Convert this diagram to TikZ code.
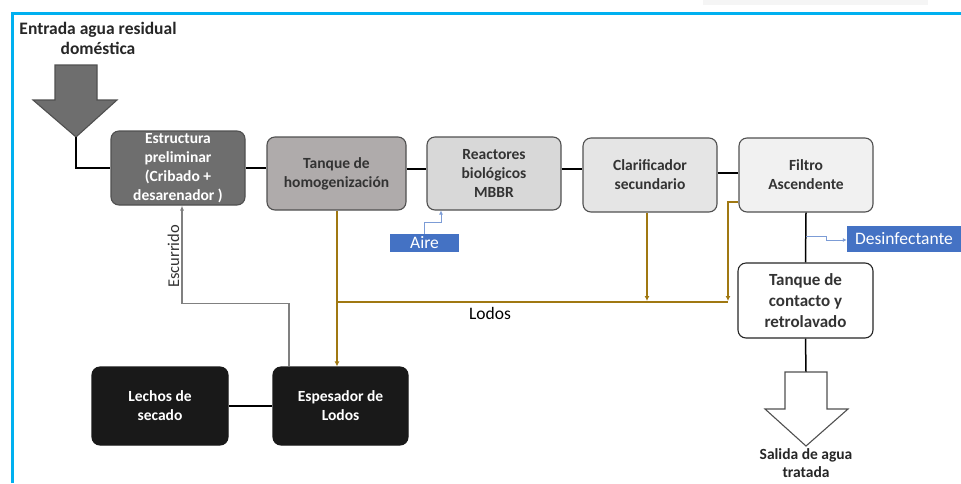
\documentclass[tikz,border=0pt]{standalone}
\usepackage{fontspec}
\setmainfont{Carlito}
\usepackage{tikz}
\usetikzlibrary{arrows.meta}
\definecolor{grisA}{RGB}{110,110,110}
\definecolor{grisB}{RGB}{175,171,171}
\definecolor{grisC}{RGB}{216,216,216}
\definecolor{grisD}{RGB}{229,229,229}
\definecolor{grisE}{RGB}{241,241,241}
\definecolor{borde}{RGB}{80,80,80}
\definecolor{azul}{RGB}{68,114,196}
\definecolor{cafe}{RGB}{160,120,18}
\definecolor{celeste}{RGB}{0,176,240}

\begin{document}
\begin{tikzpicture}[x=1pt,y=-1pt,
    caja/.style={draw=borde,line width=1.1pt,rounded corners=8pt,align=center,
      inner sep=0pt,font=\fontsize{15.5}{19}\selectfont\bfseries,text=black!80},
    negra/.style={caja,fill=black!90,draw=black!90,text=white},
    etiqueta/.style={fill=azul,text=white,inner sep=0pt,font=\fontsize{17.5}{20}\selectfont},
    lodo/.style={cafe,line width=1.6pt},
    escurre/.style={gray,line width=1.3pt},
    soplo/.style={azul!70,line width=0.9pt},
    flecha/.style={draw=borde,line width=1.1pt}]
  \useasboundingbox (0,0) rectangle (961,483);
  % marco
  \fill[gray!8] (703,0) rectangle (928,5);
  \draw[celeste,line width=3pt] (12,483) -- (12,13) -- (961,13);

  % entrada
  \node[align=center,font=\fontsize{17.5}{20}\selectfont\bfseries,text=black!85] (titulo) at (98,38)
    {Entrada agua residual\\doméstica};
  \draw[flecha,fill=grisA] (55,65) -- (97,65) -- (97,100) -- (117,100) -- (76,137)
    -- (33,100) -- (55,100) -- cycle;
  \coordinate (entrada) at (76,137);

  % linea principal
  \node[caja,fill=grisA,text=white,minimum width=134,minimum height=74] (b1) at (178,168)
    {Estructura\\preliminar\\(Cribado +\\desarenador )};
  \node[caja,fill=grisB,minimum width=139,minimum height=73] (b2) at (336.5,173.5)
    {Tanque de\\homogenización};
  \node[caja,fill=grisC,minimum width=134,minimum height=73] (b3) at (494,173.5)
    {Reactores\\biológicos\\MBBR};
  \node[caja,fill=grisD,minimum width=134,minimum height=74] (b4) at (650,175)
    {Clarificador\\secundario};
  \node[caja,fill=grisE,minimum width=134,minimum height=74] (b5) at (806,175)
    {Filtro\\Ascendente};
  \node[caja,fill=white,draw=black!85,font=\fontsize{17}{21}\selectfont\bfseries,
    minimum width=135,minimum height=75] (b6) at (805.5,300.5)
    {Tanque de\\contacto y\\retrolavado};
  \node[negra,minimum width=136,minimum height=78] (b7) at (160,406) {Lechos de\\secado};
  \node[negra,minimum width=135,minimum height=78] (b8) at (340.5,406) {Espesador de\\Lodos};

  \node[etiqueta,minimum width=69,minimum height=18] (aire) at (424.5,243) {Aire};
  \node[etiqueta,minimum width=114,minimum height=26] (desinf) at (904,239) {Desinfectante};

  \draw[line width=1.5pt] (entrada) |- (b1.west);
  \draw[line width=1.5pt] (b1.east) -- (b2.west |- b1.east);
  \draw[line width=1.5pt] ([yshift=4.5pt]b2.east) -- ([yshift=4.5pt]b3.west);
  \draw[line width=1.5pt] ([yshift=4.5pt]b3.east) -- ([yshift=6pt]b4.west);
  \draw[line width=1.5pt] ([yshift=2pt]b4.east) -- ([yshift=2pt]b5.west);
  \draw[line width=1.5pt] (b5.south) -- (b6.south |- b6.north);
  \draw[line width=1.5pt] (b7.east) -- (b8.west);

  % salida
  \coordinate (salida) at (806,372);
  \draw[line width=1.5pt] (b6.south) -- (salida);
  \draw[flecha,fill=white] (785,372) -- (827,372) -- (827,409) -- (848,409) -- (806,446)
    -- (765,409) -- (785,409) -- cycle;
  \node[align=center,font=\fontsize{15.5}{18}\selectfont\bfseries,text=black!85] (fin) at (806,463)
    {Salida de agua\\tratada};

  % aire y desinfectante
  \draw[soplo,-{Latex[length=4pt,width=4pt]}] (aire.north) -- ++(0,-11) -| ([xshift=-53pt]b3.south);
  \coordinate (dosis) at (806,236);
  \draw[soplo,-{Latex[length=4pt,width=4pt]}] (dosis) -- (826,236) -- (826,240) -- (desinf.west |- 0,240);

  % lodos
  \coordinate (jl) at (337,302);
  \coordinate (jr) at (728,302);
  \draw[lodo] (jl) -- (jr);
  \draw[lodo,-{Latex[length=5pt,width=5pt]}] (b2.south -| jl) -- (b8.north -| jl);
  \draw[lodo,-{Latex[length=5pt,width=5pt]}] (b4.south -| 647,0) -- (647,301);
  \draw[lodo,-{Latex[length=5pt,width=5pt]}] ([yshift=-27pt]b5.west) -| (728,301);
  \node[font=\fontsize{17.5}{20}\selectfont] (lodos) at (490,313) {Lodos};

  % escurrido
  \draw[escurre,-{Latex[length=5pt,width=4pt]}] ([xshift=-51.5pt]b8.north) -- ++(0,-63)
    -| ([xshift=4pt]b1.south)
    node[pos=0.74,anchor=south,rotate=90,font=\fontsize{16.5}{20}\selectfont,text=black!80,inner sep=2pt] {Escurrido};
\end{tikzpicture}
\end{document}
